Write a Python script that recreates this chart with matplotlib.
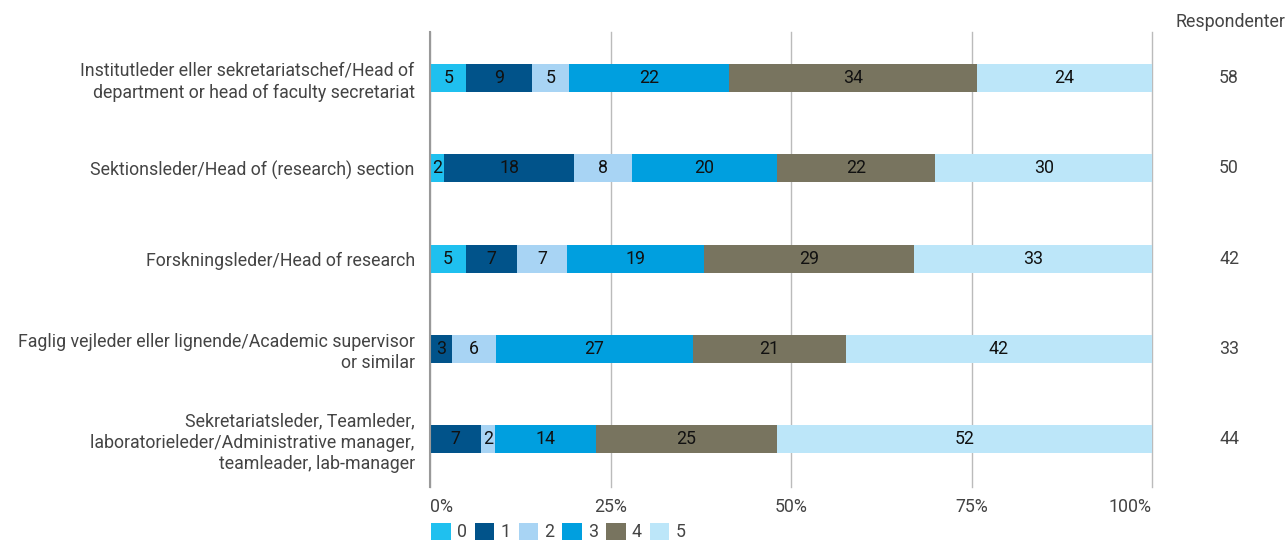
import matplotlib.pyplot as plt
import matplotlib.transforms as mtransforms
import numpy as np

plt.rcParams['font.family'] = ['Roboto', 'DejaVu Sans']

#---    Data
categories = ['Institutleder eller sekretariatschef/Head of\ndepartment or head of faculty secretariat',
              'Sektionsleder/Head of (research) section',
              'Forskningsleder/Head of research',
              'Faglig vejleder eller lignende/Academic supervisor\nor similar',
              'Sekretariatsleder, Teamleder,\nlaboratorieleder/Administrative manager,\nteamleader, lab-manager']
levels = ['0', '1', '2', '3', '4', '5']
pct_0 = [5, 2, 5, 0, 0]
pct_1 = [9, 18, 7, 3, 7]
pct_2 = [5, 8, 7, 6, 2]
pct_3 = [22, 20, 19, 27, 14]
pct_4 = [34, 22, 29, 21, 25]
pct_5 = [24, 30, 33, 42, 52]
respondents = [58, 50, 42, 33, 44]

colors = ['#1fc0ef', '#01538a', '#a8d4f4', '#009fdf', '#78745f', '#bce6f9']
fs = 12.8

series = np.array([pct_0, pct_1, pct_2, pct_3, pct_4, pct_5], dtype=float)
widths = series / series.sum(axis=0) * 100

fig = plt.figure(figsize=(12.87, 5.42), dpi=100)
ax = fig.add_axes([430/1287, 1 - 487/542, 722/1287, 455/542])

y = np.arange(len(categories))
left = np.zeros(len(categories))
for k in range(len(levels)):
    ax.barh(y, widths[k], left=left, height=0.31, color=colors[k], label=levels[k], zorder=3)
    for i in range(len(categories)):
        if series[k, i] > 0:
            ax.text(left[i] + widths[k, i] / 2, y[i], str(int(series[k, i])),
                    ha='center', va='center', fontsize=fs, color='#111111', zorder=4)
    left = left + widths[k]

ax.set_xlim(0, 100)
ax.set_ylim(4.53, -0.51)
ax.set_yticks(y)
ax.set_yticklabels(categories, fontsize=fs, color='#444444', linespacing=1.25)
ax.set_xticks([0, 25, 50, 75, 100])
ax.set_xticklabels(['0%', '25%', '50%', '75%', '100%'], fontsize=fs, color='#444444')
xt = ax.get_xticklabels()
xt[0].set_ha('left')
xt[-1].set_ha('right')
ax.tick_params(axis='x', length=0, pad=8)
ax.tick_params(axis='y', length=0, pad=11)
ax.grid(axis='x', color='#bbbbbb', linewidth=1, zorder=0)
for line in ax.get_xgridlines():
    line.set_clip_on(False)
for s in ['top', 'right', 'bottom']:
    ax.spines[s].set_visible(False)
ax.spines['left'].set_color('#999999')
ax.spines['left'].set_linewidth(1.5)
ax.spines['left'].set_zorder(5)

#---    Respondent column
fig.text(1285/1287, 1 - 22/542, 'Respondenter', ha='right', va='center', fontsize=fs, color='#444444')
trans = mtransforms.blended_transform_factory(fig.transFigure, ax.transData)
for i, n in enumerate(respondents):
    ax.text(1229/1287, y[i], str(n), transform=trans,
            ha='center', va='center', fontsize=fs, color='#444444')

fig.legend(loc='lower left', bbox_to_anchor=(415/1287, -0.028), ncol=6, frameon=False,
           fontsize=fs, handlelength=1.1, handleheight=1.1, handletextpad=0.35,
           columnspacing=0.45, labelcolor='#444444')

plt.savefig('out.png', dpi=100)
